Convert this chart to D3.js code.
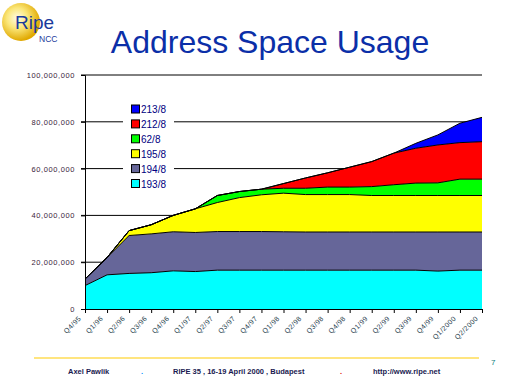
<!DOCTYPE html>
<html>
<head>
<meta charset="utf-8">
<script src="https://cdn.jsdelivr.net/npm/d3@7"></script>
<style>
  body { margin: 0; background: #fff; }
  svg { display: block; font-family: Arial, "Liberation Sans", sans-serif; }
</style>
</head>
<body>
<svg width="512" height="384"></svg>
<script>
"use strict";

// Data (millions of addresses, per block).

var quarters = ["Q4/95", "Q1/96", "Q2/96", "Q3/96", "Q4/96", "Q1/97", "Q2/97", "Q3/97",
    "Q4/97", "Q1/98", "Q2/98", "Q3/98", "Q4/98", "Q1/99", "Q2/99", "Q3/99", "Q4/99",
    "Q1/2000", "Q2/2000"];

var blocks = ["193/8", "194/8", "195/8", "62/8", "212/8", "213/8"];

var net193 = [10.0, 14.6, 15.2, 15.5, 16.3, 16.0, 16.6, 16.6, 16.6, 16.6, 16.6, 16.6, 16.6, 16.6, 16.6, 16.6, 16.2, 16.6, 16.6];
var net194 = [2.8, 7.4, 16.2, 16.6, 16.7, 16.7, 16.5, 16.5, 16.5, 16.4, 16.3, 16.3, 16.3, 16.3, 16.3, 16.3, 16.7, 16.3, 16.3];
var net195 = [0, 0, 2.1, 3.9, 7.0, 10.1, 12.4, 14.5, 15.7, 16.5, 16.0, 16.0, 16.0, 15.6, 15.6, 15.6, 15.6, 15.6, 15.6];
var net62  = [0, 0, 0, 0, 0, 0, 3.0, 2.6, 2.4, 2.1, 2.7, 3.2, 3.2, 3.8, 4.6, 5.3, 5.4, 7.0, 7.0];
var net212 = [0, 0, 0, 0, 0, 0, 0, 0, 0, 2.0, 4.4, 6.1, 8.5, 10.7, 13.5, 14.9, 16.2, 15.6, 16.0];
var net213 = [0, 0, 0, 0, 0, 0, 0, 0, 0, 0, 0, 0, 0, 0, 0, 2.1, 4.3, 8.3, 10.4];

var yTicks = [0, 20000000, 40000000, 60000000, 80000000, 100000000];

var colors = {"193/8": "#00ffff", "194/8": "#666699", "195/8": "#ffff00",
              "62/8": "#00ff00", "212/8": "#ff0000", "213/8": "#0000ff"};

// Build rows for d3.stack.

var series = [net193, net194, net195, net62, net212, net213];
var rows = quarters.map(function(q, i){
    var r = {"quarter": q};
    blocks.forEach(function(b, k){ r[b] = series[k][i] * 1e6; });
    return r;
});

var svg = d3.select("svg");

// Layout.

var Left = 85, Right = 482, Top = 75, Bottom = 309;

var x = d3.scalePoint().domain(quarters).range([Left, Right]);
var y = d3.scaleLinear().domain([0, 100000000]).range([Bottom, Top]);

// Logo.

var defs = svg.append("defs");
var grad = defs.append("radialGradient").attr("id", "ball")
    .attr("cx", "40%").attr("cy", "40%").attr("r", "60%");
grad.append("stop").attr("offset", "0%").attr("stop-color", "#fffbe6");
grad.append("stop").attr("offset", "45%").attr("stop-color", "#fbe77a");
grad.append("stop").attr("offset", "100%").attr("stop-color", "#e0a800");

svg.append("circle").attr("cx", 21).attr("cy", 22).attr("r", 19).attr("fill", "url(#ball)");
svg.append("text").attr("x", 15).attr("y", 29)
    .attr("font-size", 19).attr("fill", "#1a3a9c").text("Ripe");
svg.append("text").attr("x", 39).attr("y", 42)
    .attr("font-size", 8.5).attr("fill", "#1a3a9c").text("NCC");

// Title.

svg.append("text").attr("x", 270).attr("y", 53).attr("text-anchor", "middle")
    .attr("font-size", 32).attr("fill", "#0b2fa8").text("Address Space Usage");

// Gridlines.

svg.append("g").selectAll("line").data(yTicks.slice(1)).enter().append("line")
    .attr("x1", Left - 4).attr("x2", Right)
    .attr("y1", function(d){ return y(d); }).attr("y2", function(d){ return y(d); })
    .attr("stroke", "#000").attr("stroke-width", 1);

// Stacked areas.

var stacked = d3.stack().keys(blocks)(rows);

var area = d3.area()
    .x(function(d){ return x(d.data.quarter); })
    .y0(function(d){ return y(d[0]); })
    .y1(function(d){ return y(d[1]); });

var topLine = d3.line()
    .x(function(d){ return x(d.data.quarter); })
    .y(function(d){ return y(d[1]); });

svg.append("g").selectAll("path").data(stacked).enter().append("path")
    .attr("d", area)
    .attr("fill", function(d){ return colors[d.key]; });

svg.append("g").selectAll("path").data(stacked).enter().append("path")
    .attr("d", topLine)
    .attr("fill", "none").attr("stroke", "#000").attr("stroke-width", 1);

// Axes.

var yAxis = d3.axisLeft(y).tickValues(yTicks).tickSize(4).tickPadding(6)
    .tickFormat(function(d){ return d === 0 ? "0" : d3.format(",")(d); });

var gy = svg.append("g").attr("transform", "translate(" + Left + ",0)").call(yAxis);
gy.select(".domain").attr("stroke", "#000");
gy.selectAll("text").attr("font-size", 7.5).attr("letter-spacing", 0.6)
    .attr("fill", "#3a1c3a").attr("font-family", "Arial, sans-serif");

var xAxis = d3.axisBottom(x).tickSize(4).tickSizeOuter(0);
var gx = svg.append("g").attr("transform", "translate(0," + Bottom + ")").call(xAxis);
gx.select(".domain").attr("stroke", "#000");
gx.selectAll("text")
    .attr("font-size", 7).attr("letter-spacing", 0.4)
    .attr("fill", "#1c3a4a").attr("font-family", "Arial, sans-serif")
    .attr("text-anchor", "end")
    .attr("dy", null).attr("y", 0)
    .attr("transform", "translate(-4,10) rotate(-45)");

// Legend, on a white box that breaks the gridlines.

svg.append("rect").attr("x", 123).attr("y", 100).attr("width", 51).attr("height", 92)
    .attr("fill", "#fff");

var legend = svg.append("g").selectAll("g").data(blocks.slice().reverse()).enter().append("g")
    .attr("transform", function(d, i){ return "translate(131," + (109 + i * 14.9) + ")"; });

legend.append("rect").attr("x", 0.5).attr("y", -4).attr("width", 8).attr("height", 8)
    .attr("fill", function(d){ return colors[d]; })
    .attr("stroke", "#000").attr("stroke-width", 1);

legend.append("text").attr("x", 10).attr("y", 4)
    .attr("font-size", 10).attr("fill", "#000080")
    .text(function(d){ return d; });

// Footer.

svg.append("line").attr("x1", 34).attr("x2", 479).attr("y1", 358).attr("y2", 358)
    .attr("stroke", "#ffcc00").attr("stroke-width", 1.2);

svg.append("text").attr("x", 491).attr("y", 365).attr("font-size", 8)
    .attr("fill", "#108080").text("7");

var footer = [
    {"text": "Axel Pawlik", "x": 68, "color": "#1a1a50"},
    {"text": ".", "x": 141, "color": "#0090ff"},
    {"text": "RIPE 35 , 16-19 April 2000 , Budapest", "x": 173, "color": "#1a1a50"},
    {"text": ".", "x": 340, "color": "#e00000"},
    {"text": "http://www.ripe.net", "x": 373, "color": "#1a1a50"}
];

svg.append("g").selectAll("text").data(footer).enter().append("text")
    .attr("x", function(d){ return d.x; }).attr("y", 374)
    .attr("font-size", 7.5).attr("font-weight", "bold")
    .attr("fill", function(d){ return d.color; })
    .text(function(d){ return d.text; });
</script>
</body>
</html>
